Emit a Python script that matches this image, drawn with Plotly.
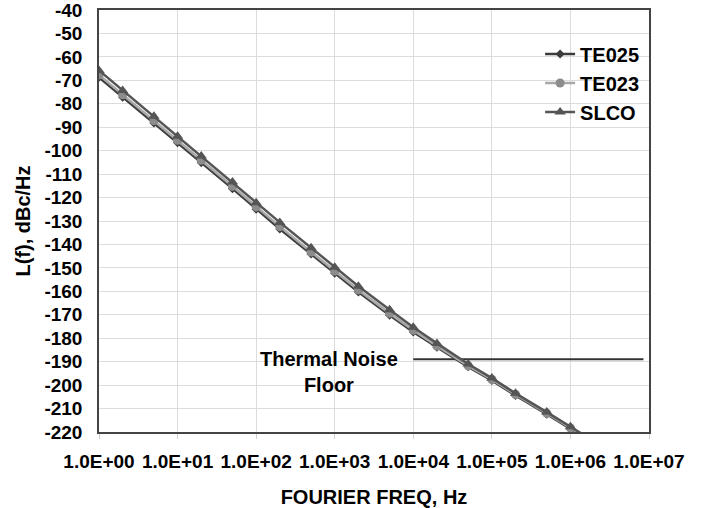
import plotly.graph_objects as go

freq = [1, 2, 5, 10, 20, 50, 100, 200, 500, 1e3, 2e3, 5e3, 1e4, 2e4, 5e4,
        1e5, 2e5, 5e5, 1e6, 2e6]
te025 = [-68.7, -77.2, -88.2, -96.6, -105.1, -116.2, -125.0, -133.4, -144.1,
         -152.3, -160.3, -170.2, -177.3, -183.8, -192.2, -198.0, -204.4,
         -212.4, -218.7, -224.9]
te023 = [-67.7, -76.2, -87.2, -95.6, -104.1, -115.2, -124.0, -132.4, -143.2,
         -151.4, -159.4, -169.4, -176.6, -183.3, -191.8, -197.6, -204.0,
         -212.0, -218.3, -224.5]
slco = [-65.8, -74.3, -85.3, -93.8, -102.3, -113.4, -122.2, -130.6, -141.4,
        -149.7, -157.8, -167.9, -175.3, -182.2, -191.0, -197.0, -203.5,
        -211.5, -217.8, -224.0]
floor_x = [1e4, 8.5e6]
floor_y = [-189, -189]

x_tickvals = [1, 10, 100, 1e3, 1e4, 1e5, 1e6, 1e7]
x_ticktext = ["1.0E+00", "1.0E+01", "1.0E+02", "1.0E+03", "1.0E+04",
              "1.0E+05", "1.0E+06", "1.0E+07"]
y_tickvals = list(range(-220, -39, 10))
y_ticktext = [str(v) for v in y_tickvals]

FONT = "Arial, Liberation Sans, sans-serif"

fig = go.Figure()
fig.add_trace(go.Scatter(x=floor_x, y=floor_y, mode="lines",
                         line=dict(color="#333333", width=2),
                         showlegend=False, hoverinfo="skip"))
fig.add_trace(go.Scatter(x=freq, y=te025, name="TE025", mode="lines+markers",
                         line=dict(color="#3c3c3c", width=2.5),
                         marker=dict(symbol="diamond", size=7, color="#3c3c3c")))
fig.add_trace(go.Scatter(x=freq, y=te023, name="TE023", mode="lines+markers",
                         line=dict(color="#a8a8a8", width=2.5),
                         marker=dict(symbol="circle", size=9, color="#8c8c8c")))
fig.add_trace(go.Scatter(x=freq, y=slco, name="SLCO", mode="lines+markers",
                         line=dict(color="#555555", width=2.5),
                         marker=dict(symbol="triangle-up", size=10, color="#555555")))

fig.add_annotation(x=2.93, y=-194.4, xref="x", yref="y",
                   text="Thermal Noise<br>Floor", showarrow=False,
                   font=dict(family=FONT, size=20, color="black", weight="bold"))

fig.update_layout(
    width=705, height=508,
    margin=dict(l=99, r=56, t=10, b=76, autoexpand=False),
    paper_bgcolor="white", plot_bgcolor="white",
    font=dict(family=FONT, color="black"),
    legend=dict(x=0.802, y=0.942, xanchor="left", yanchor="top",
                bgcolor="rgba(0,0,0,0)",
                font=dict(family=FONT, size=20, color="black", weight="bold")),
)
fig.update_xaxes(type="log", range=[0, 7], tickvals=x_tickvals,
                 ticktext=x_ticktext, showgrid=True, gridcolor="#dcdcdc",
                 gridwidth=1, showline=True, linecolor="#444444", linewidth=1.5,
                 mirror=True, ticks="outside", ticklen=5, tickcolor="#d0d0d0",
                 ticklabelstandoff=6, zeroline=False, automargin=False,
                 ticklabeloverflow="allow",
                 tickfont=dict(family=FONT, size=19, color="black", weight="bold"),
                 title=dict(text="FOURIER FREQ, Hz", standoff=19,
                            font=dict(family=FONT, size=20, color="black",
                                      weight="bold")))
fig.update_yaxes(range=[-220, -40], tickvals=y_tickvals, ticktext=y_ticktext,
                 showgrid=True,
                 gridcolor="#dcdcdc", gridwidth=1, showline=True,
                 linecolor="#444444", linewidth=1.5, mirror=True,
                 ticks="", ticklabelstandoff=11, zeroline=False,
                 automargin=False, ticklabeloverflow="allow",
                 tickfont=dict(family=FONT, size=19, color="black", weight="bold"),
                 title=dict(text="L(f), dBc/Hz", standoff=8,
                            font=dict(family=FONT, size=20, color="black",
                                      weight="bold")))

# remove the browser's default 8px body margin so the figure fills the window
fig.write_html("out.html",
               config={"displayModeBar": False},
               post_script="document.body.style.margin='0';"
                           "document.body.style.overflow='hidden';")
